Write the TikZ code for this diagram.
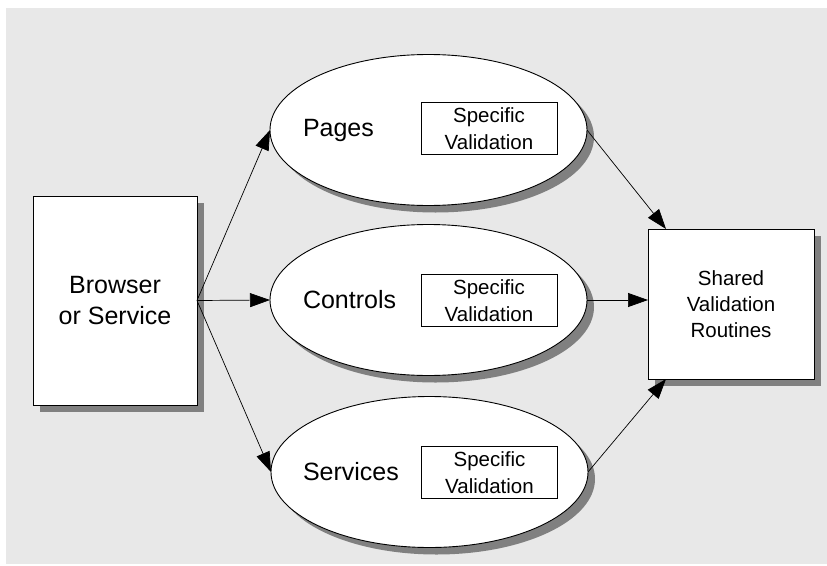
\documentclass[tikz,border=0pt]{standalone}
\usepackage{fontspec}
\setmainfont{Liberation Sans}
\usetikzlibrary{shapes.geometric,arrows.meta,shadows}
\definecolor{ce8e8e8}{RGB}{232,232,232}
\definecolor{c808080}{RGB}{128,128,128}

\tikzset{
  shade7/.style={drop shadow={fill=c808080,opacity=1,shadow xshift=7pt,shadow yshift=-7pt}},
  bigbox/.style={draw=black,fill=white,line width=0.9pt,rectangle,align=center,shade7},
  oval/.style={draw=black,fill=white,line width=0.9pt,ellipse,minimum width=317pt,minimum height=151pt,shade7},
  specbox/.style={draw=black,fill=white,line width=0.8pt,rectangle,align=center,minimum width=136pt,minimum height=52pt,
    font=\fontsize{20.5}{26.5}\selectfont},
  biglabel/.style={anchor=west,font=\fontsize{25}{31}\selectfont},
  conn/.style={draw=black,line width=0.7pt,-{Triangle[length=20pt,width=14pt]}},
}

\begin{document}
\begin{tikzpicture}[y=-1pt, x=1pt, inner sep=0pt, outer sep=0pt]
  \useasboundingbox (0,0) rectangle (827,565);
  \path[fill=ce8e8e8] (6,8) rectangle (827,564);

  % left and right boxes
  \node[bigbox,minimum width=164pt,minimum height=209pt,font=\fontsize{25}{31}\selectfont]
    (browser) at (115,300.5) {Browser\\or Service};
  \node[bigbox,minimum width=166pt,minimum height=150pt,font=\fontsize{20.5}{26}\selectfont]
    (shared) at (731,304) {Shared\\Validation\\Routines};

  % the three ellipses
  \node[oval] (pages) at (428.5,130) {};
  \node[oval] (controls) at (428.5,300) {};
  \node[oval] (services) at (429.5,472) {};

  \node[biglabel] (pageslabel) at (303,130) {Pages};
  \node[biglabel] (controlslabel) at (303,300) {Controls};
  \node[biglabel] (serviceslabel) at (303,472) {Services};

  \node[specbox] (pagesspec) at (489,128.5) {Specific\\Validation};
  \node[specbox] (controlsspec) at (489,300.5) {Specific\\Validation};
  \node[specbox] (servicesspec) at (489.5,472.5) {Specific\\Validation};

  % connectors
  \path[conn] (browser.east) -- (pages.west);
  \path[conn] (browser.east) -- (controls.west);
  \path[conn] (browser.east) -- (services.west);
  \path[conn] (pages.east) -- ([xshift=18pt]shared.north west);
  \path[conn] (controls.east) -- (controls.east -| shared.west);
  \path[conn] (services.east) -- ([xshift=18pt]shared.south west);
\end{tikzpicture}
\end{document}
